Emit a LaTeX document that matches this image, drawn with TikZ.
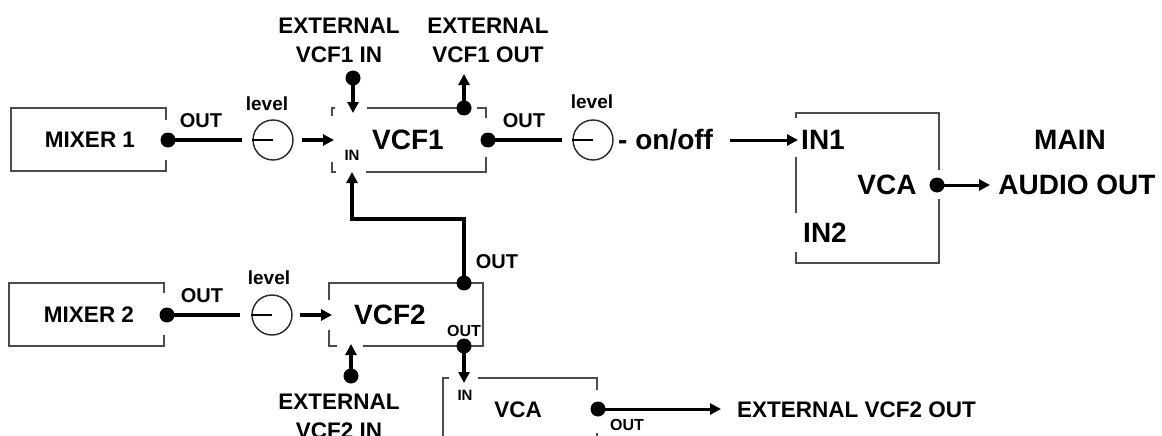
\documentclass[tikz,border=0pt]{standalone}
\usepackage{fontspec}
\setmainfont{Liberation Sans}
\usetikzlibrary{arrows.meta}
\newcommand\myfs[1]{\fontsize{#1}{#1}\selectfont}
\begin{document}
\begin{tikzpicture}[x=1pt,y=-1pt,
 boxline/.style={line width=1.4pt, draw=black!70},
 conn/.style={line width=4pt, draw=black},
 thinconn/.style={line width=3pt, draw=black},
 arr/.style={-{Triangle[length=11pt,width=11pt]}},
 dot/.style={circle, fill=black, inner sep=0pt, minimum size=15pt},
 knob/.style={circle, draw=black!85, line width=1.4pt, minimum size=40pt, inner sep=0pt},
 bigtxt/.style={font=\bfseries\myfs{28}, inner sep=0pt},
 midtxt/.style={font=\bfseries\myfs{22.5}, inner sep=0pt},
 outtxt/.style={font=\bfseries\myfs{20}, inner sep=0pt},
 lvltxt/.style={font=\bfseries\myfs{19}, inner sep=0pt},
 tinytxt/.style={font=\bfseries\myfs{15}, inner sep=0pt},
]
\useasboundingbox (0,0) rectangle (1162,436);
\clip (0,0) rectangle (1162,436);

% ---------- MIXER 1 ----------
\draw[boxline] (166,120) -- (166,108) -- (11,108) -- (11,171) -- (166,171) -- (166,160);
\node[midtxt] (mix1) at (90,140) {MIXER 1};
\node[dot] (dm1) at (168,140) {};
\node[outtxt] (om1) at (201,121) {OUT};
\coordinate (l1e) at (242,140);
\draw[conn] (dm1.center) -- (l1e);
\node[knob] (k1) at (273,140) {};
\draw[line width=1.4pt] (k1.west) -- (k1.center);
\node[lvltxt] (lv1) at (267,104) {level};
\coordinate (a1s) at (302,140);
\coordinate (a1e) at (334,140);
\draw[conn,arr] (a1s) -- (a1e);

% ---------- VCF1 ----------
\draw[boxline] (335,108) -- (332,108) -- (332,116);
\draw[boxline] (332,162) -- (332,172) -- (336,172);
\draw[boxline] (366,172) -- (486,172) -- (486,157);
\draw[boxline] (486,118) -- (486,108) -- (477,108);
\draw[boxline] (367,108) -- (458,108);
\node[bigtxt] (vcf1) at (408,140) {VCF1};
\node[tinytxt] (in1s) at (352,155) {IN};
\node[midtxt, align=center] (ext1a) at (339,26) {EXTERNAL};
\node[midtxt] (ext1b) at (339,55) {VCF1 IN};
\node[midtxt] (ext2a) at (488,26) {EXTERNAL};
\node[midtxt] (ext2b) at (488,55) {VCF1 OUT};
\node[dot] (dei1) at (353,78) {};
\coordinate (tei1) at (353,113);
\draw[conn,arr] (dei1.center) -- (tei1);
\node[dot] (deo1) at (464,108) {};
\coordinate (teo1) at (464,74);
\draw[conn,arr] (deo1.center) -- (teo1);
\node[dot] (dv1) at (488,140) {};
\node[outtxt] (ov1) at (524,121) {OUT};
\coordinate (l2e) at (562,140);
\draw[conn] (dv1.center) -- (l2e);
\node[knob] (k2) at (593,140) {};
\draw[line width=1.4pt] (k2.west) -- (k2.center);
\node[lvltxt] (lv2) at (592,102) {level};
\node[bigtxt, anchor=west] (onoff) at (618,140) {- on/off};
\coordinate (a2s) at (730,140);
\coordinate (a2e) at (798,140);
\draw[thinconn,arr] (a2s) -- (a2e);

% ---------- main VCA ----------
\draw[boxline] (796,118) -- (796,113) -- (939,113) -- (939,170);
\draw[boxline] (939,199) -- (939,263) -- (796,263) -- (796,252);
\draw[boxline] (796,157) -- (796,213);
\node[bigtxt] (vin1) at (823,140) {IN1};
\node[bigtxt] (vin2) at (825,233) {IN2};
\node[bigtxt] (vca) at (887,185) {VCA};
\node[dot] (dvca) at (937,185) {};
\coordinate (a3e) at (990,185);
\draw[thinconn,arr] (dvca.center) -- (a3e);
\node[bigtxt] (mainl) at (1070,140) {MAIN};
\node[bigtxt] (audio) at (1077,185) {AUDIO OUT};

% ---------- MIXER 2 ----------
\draw[boxline] (164,293) -- (164,283) -- (9,283) -- (9,346) -- (164,346) -- (164,335);
\node[midtxt] (mix2) at (89,315) {MIXER 2};
\node[dot] (dm2) at (167,315) {};
\node[outtxt] (om2) at (202,296) {OUT};
\coordinate (l3e) at (240,315);
\draw[conn] (dm2.center) -- (l3e);
\node[knob] (k3) at (272,315) {};
\draw[line width=1.4pt] (k3.west) -- (k3.center);
\node[lvltxt] (lv3) at (269,278) {level};
\coordinate (a4s) at (300,315);
\coordinate (a4e) at (332,315);
\draw[conn,arr] (a4s) -- (a4e);

% ---------- VCF2 ----------
\draw[boxline] (329,300) -- (329,283) -- (457,283);
\draw[boxline] (471,283) -- (483,283) -- (483,346) -- (471,346);
\draw[boxline] (457,346) -- (363,346);
\draw[boxline] (337,346) -- (329,346) -- (329,330);
\node[bigtxt] (vcf2) at (390,315) {VCF2};
\node[tinytxt, font=\bfseries\myfs{16}] (ov2s) at (464,331) {OUT};
\node[dot] (dv2t) at (464,283) {};
\node[outtxt] (ov2) at (497,262) {OUT};
\coordinate (fb1) at (464,219);
\coordinate (fb2) at (352,219);
\coordinate (fb3) at (352,172);
\draw[conn,arr] (dv2t.center) -- (fb1) -- (fb2) -- (fb3);
\node[dot] (dei2) at (351,376) {};
\coordinate (tei2) at (351,344);
\draw[conn,arr] (dei2.center) -- (tei2);
\node[midtxt] (ext3a) at (339,402) {EXTERNAL};
\node[midtxt] (ext3b) at (339,431) {VCF2 IN};
\node[dot] (dv2b) at (464,346) {};
\coordinate (tv2b) at (464,383);
\draw[conn,arr] (dv2b.center) -- (tv2b);

% ---------- small VCA ----------
\draw[boxline] (449,378) -- (443,378) -- (443,470);
\draw[boxline] (478,378) -- (597,378) -- (597,390);
\draw[boxline] (597,433) -- (597,470);
\node[tinytxt] (vin) at (465,395) {IN};
\node[midtxt] (vca2) at (518,410) {VCA};
\node[dot] (dvca2) at (598,409) {};
\node[tinytxt, font=\bfseries\myfs{16}] (ovca2) at (627,425) {OUT};
\coordinate (a5e) at (721,409);
\draw[thinconn,arr] (dvca2.center) -- (a5e);
\node[midtxt, anchor=west] (extout) at (737,410) {EXTERNAL VCF2 OUT};
\end{tikzpicture}
\end{document}
